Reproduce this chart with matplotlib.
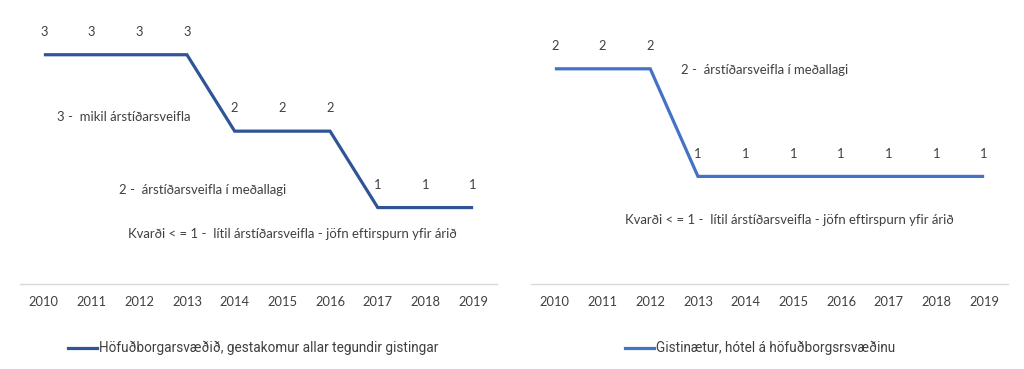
import matplotlib
matplotlib.use("Agg")
import matplotlib.pyplot as plt

years = ["2010", "2011", "2012", "2013", "2014", "2015", "2016", "2017", "2018", "2019"]
left_values = [3, 3, 3, 3, 2, 2, 2, 1, 1, 1]
right_values = [2, 2, 2, 1, 1, 1, 1, 1, 1, 1]
left_label = "Höfuðborgarsvæðið, gestakomur allar tegundir gistingar"
right_label = "Gistinætur, hótel á höfuðborgsrsvæðinu"
txt3 = "3 -  mikil árstíðarsveifla"
txt2 = "2 -  árstíðarsveifla í meðallagi"
txt1 = "Kvarði < = 1 -  lítil árstíðarsveifla - jöfn eftirspurn yfir árið"

plt.rcParams['font.family'] = ['Lato', 'DejaVu Sans']
W, H = 1024, 369
fig = plt.figure(figsize=(W / 100, H / 100), dpi=100)

def px_axes(x0, x1, ytop, ybot):
    return fig.add_axes([x0 / W, 1 - ybot / H, (x1 - x0) / W, (ybot - ytop) / H])

txtc = "#404040"

def setup(ax, values, color, ymax):
    x = list(range(len(values)))
    ax.plot(x, values, color=color, lw=2.3, solid_capstyle='butt', solid_joinstyle='miter')
    ax.set_xlim(-0.5, len(values) - 0.5)
    ax.set_ylim(0, ymax)
    ax.set_xticks(x)
    ax.set_xticklabels(years, fontsize=9.3, color=txtc)
    ax.tick_params(axis='x', length=0, pad=9)
    ax.set_yticks([])
    for s in ['top', 'left', 'right']:
        ax.spines[s].set_visible(False)
    ax.spines['bottom'].set_color('#d9d9d9')
    ax.spines['bottom'].set_linewidth(1)
    for xi, v in zip(x, values):
        ax.annotate(str(v), (xi, v), xytext=(0, 12), textcoords='offset points',
                    ha='center', va='bottom', fontsize=9.3, color=txtc)

ax1 = px_axes(20, 497, 15, 284)
setup(ax1, left_values, "#2F5597", 3.52)
ax2 = px_axes(531, 1008, 15, 284)
setup(ax2, right_values, "#4472C4", 2.5)

def ftext(x, y, s, ha='left'):
    fig.text(x / W, 1 - y / H, s, ha=ha, va='center', fontsize=9.45, color=txtc)

ftext(57, 117, txt3)
ftext(119, 190, txt2)
ftext(128, 234, txt1)
ftext(681, 70, txt2)
ftext(625, 220, txt1)

def legend_item(x0, color, label):
    y = 1 - 348 / H
    fig.add_artist(plt.Line2D([x0 / W, (x0 + 29) / W], [y, y], color=color, lw=2.3,
                              transform=fig.transFigure))
    fig.text((x0 + 31) / W, y, label, ha='left', va='center', fontsize=9.8, color=txtc,
             family=['Liberation Sans Narrow', 'Roboto', 'DejaVu Sans'])

legend_item(68, "#2F5597", left_label)
legend_item(625, "#4472C4", right_label)

fig.savefig("out.png", dpi=100)
